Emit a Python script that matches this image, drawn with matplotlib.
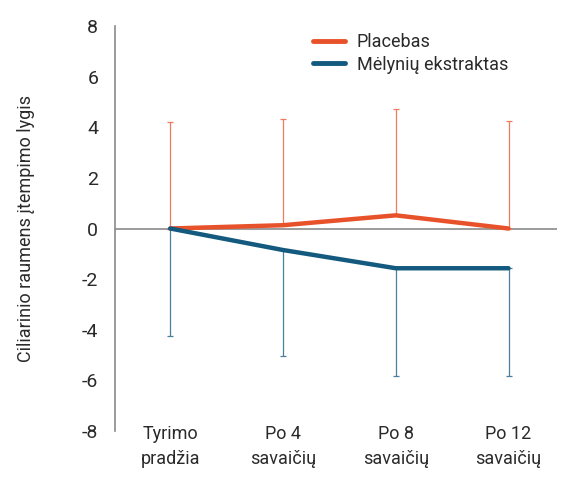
import matplotlib
matplotlib.use("Agg")
import matplotlib.pyplot as plt
import numpy as np

categories = ["Tyrimo\npradžia", "Po 4\nsavaičių", "Po 8\nsavaičių", "Po 12\nsavaičių"]
placebo = [0.0, 0.13, 0.52, 0.0]
placebo_err_up = [4.22, 4.21, 4.22, 4.26]
bilberry = [0.0, -0.85, -1.57, -1.57]
bilberry_err_down = [4.24, 4.2, 4.24, 4.24]
yticks = [-8, -6, -4, -2, 0, 2, 4, 6, 8]
series_names = ["Placebas", "Mėlynių ekstraktas"]

FONT = ["Roboto", "DejaVu Sans"]
plt.rcParams['font.family'] = FONT
TXT = "#2a2a2a"
ORANGE = "#E8522A"
BLUE = "#135A7E"
GRAY = "#8a8a8a"
FS = 13

fig = plt.figure(figsize=(5.70, 4.82), dpi=100)
W, H = 570, 482
ax = fig.add_axes([115 / W, 1 - 431 / H, (557 - 115) / W, (431 - 26) / H])

x = np.arange(len(categories))

ax.axhline(0, color=GRAY, lw=1.2, zorder=1)

ax.errorbar(x, placebo, yerr=[np.zeros(len(x)), placebo_err_up], fmt='none',
            ecolor="#EE7B5C", elinewidth=0.9, capsize=2.5, capthick=0.9, zorder=2)
ax.errorbar(x, bilberry, yerr=[bilberry_err_down, np.zeros(len(x))], fmt='none',
            ecolor="#4A7F9E", elinewidth=0.9, capsize=2.5, capthick=0.9, zorder=2)

ax.plot(x, placebo, color=ORANGE, lw=3.2, solid_capstyle='round', zorder=3, label=series_names[0])
ax.plot(x, bilberry, color=BLUE, lw=3.2, solid_capstyle='round', zorder=4, label=series_names[1])

ax.set_xlim(-0.49, 3.43)
ax.set_ylim(-8, 8)
ax.set_yticks(yticks)
ax.set_yticklabels([str(v) for v in yticks], fontsize=FS + 1, color=TXT)
ax.set_xticks(x)
ax.set_xticklabels(categories, fontsize=FS, color=TXT, linespacing=1.45)
ax.tick_params(axis='x', length=0, pad=-4)
ax.tick_params(axis='y', length=0, pad=12)

for s in ['top', 'right', 'bottom']:
    ax.spines[s].set_visible(False)
ax.spines['left'].set_color(GRAY)
ax.spines['left'].set_linewidth(1.2)

ax.set_ylabel("Ciliarinio raumens įtempimo lygis", fontsize=FS, color=TXT, labelpad=34)

leg = ax.legend(loc='upper left', bbox_to_anchor=(0.431, 1.0), frameon=False,
                fontsize=FS, handlelength=1.8, handletextpad=0.65, labelspacing=0.25,
                borderaxespad=0.0)
for t in leg.get_texts():
    t.set_color(TXT)
for l in leg.get_lines():
    l.set_linewidth(3.5)

fig.savefig("out.png", dpi=100)
